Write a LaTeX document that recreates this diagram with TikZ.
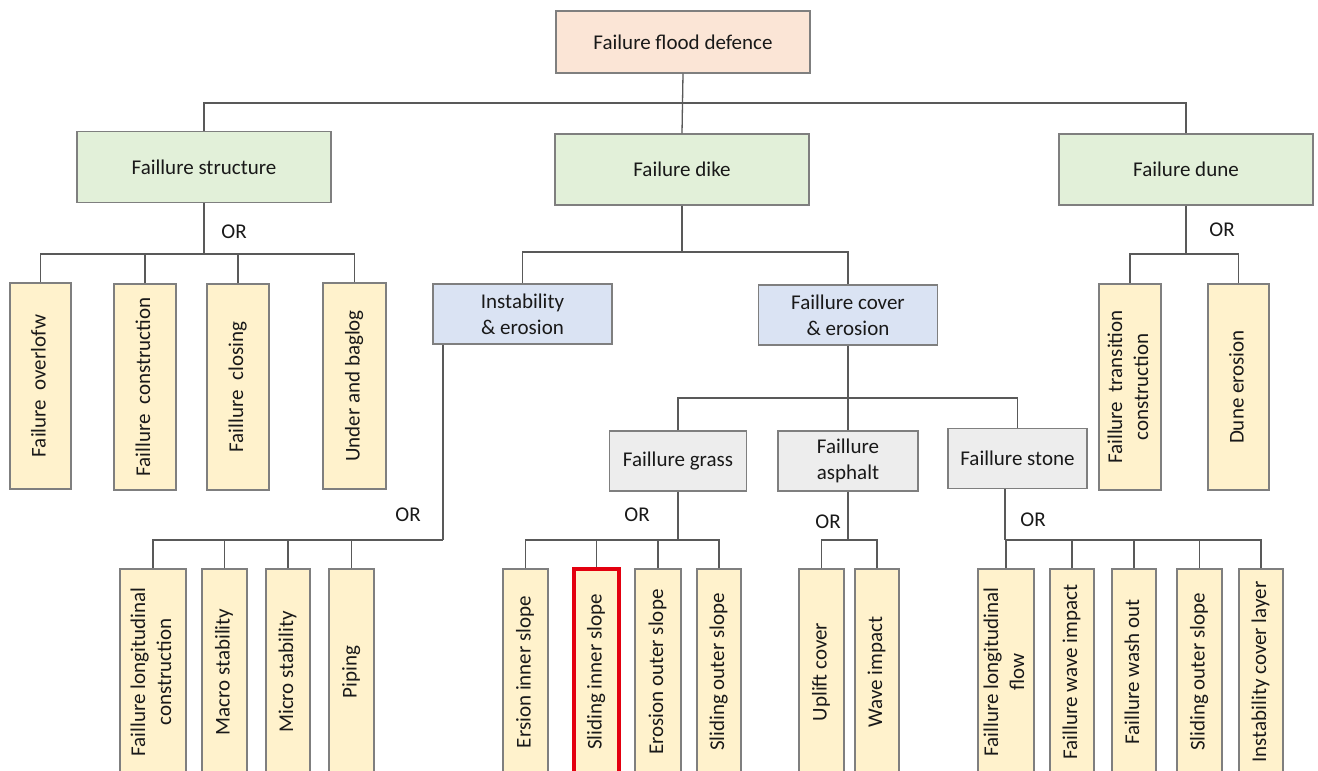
\documentclass[tikz,border=0pt]{standalone}
\usepackage{fontspec}
\setmainfont{Carlito}
\usepackage{graphicx}
\definecolor{cpeach}{HTML}{FBE5D6}
\definecolor{cgreen}{HTML}{E2F0D9}
\definecolor{cblue}{HTML}{DAE3F3}
\definecolor{cgrey}{HTML}{EDEDED}
\definecolor{cyellow}{HTML}{FFF2CC}
\definecolor{cborder}{HTML}{7F7F7F}
\definecolor{cline}{HTML}{595959}
\definecolor{cred}{HTML}{E3000F}
\tikzset{
  box/.style={draw=cborder, line width=1.3pt, inner sep=0pt, align=center,
    font=\fontsize{21}{26}\selectfont, text=black!90},
  topbox/.style={box, fill=cpeach, minimum width=254pt, minimum height=62pt},
  lvl1/.style={box, fill=cgreen, minimum width=254pt, minimum height=71pt},
  lvl2/.style={box, fill=cblue, minimum width=179pt, minimum height=60pt},
  lvl3/.style={box, fill=cgrey, minimum height=60pt},
  leaf/.style={box, fill=cyellow, minimum height=206pt},
  redbox/.style={draw=cred, line width=4.5pt},
  conn/.style={draw=cline, line width=1.3pt},
  orlab/.style={font=\fontsize{21}{26}\selectfont, text=black!90, inner sep=0pt}
}
\newcommand{\vtext}[1]{\rotatebox{90}{\begin{tabular}{@{}c@{}}#1\end{tabular}}}
\begin{document}
\begin{tikzpicture}[x=1pt, y=-1pt]
\clip (0,0) rectangle (1318,771);
\fill[white] (0,0) rectangle (1318,771);

% top levels
\node[topbox] (top) at (683,42) {Failure flood defence};
\node[lvl1] (struct) at (204,167) {Faillure structure};
\node[lvl1] (dike) at (682,169.5) {Failure dike};
\node[lvl1] (dune) at (1186,169.5) {Failure dune};

% level 2
\node[lvl2] (inst) at (522.5,314) {Instability\\\& erosion};
\node[lvl2] (cover) at (848,315) {Faillure cover\\\& erosion};

% level 3
\node[lvl3, minimum width=137pt] (grass) at (678,461) {Faillure grass};
\node[lvl3, minimum width=140pt] (asph) at (848,461) {Faillure\\asphalt};
\node[lvl3, minimum width=139pt] (stone) at (1017.5,458.5) {Faillure stone};

% structure leaves
\node[leaf, minimum width=61pt] (s1) at (40.5,386) {\vtext{Failure~ overlofw}};
\node[leaf, minimum width=62pt] (s2) at (145,387) {\vtext{Faillure~ construction}};
\node[leaf, minimum width=62pt] (s3) at (238,387) {\vtext{Faillure~ closing}};
\node[leaf, minimum width=63pt] (s4) at (354.5,386) {\vtext{Under and baglog}};

% dune leaves
\node[leaf, minimum width=62pt] (d1) at (1130,387) {\vtext{Faillure~ transition\\construction}};
\node[leaf, minimum width=61pt] (d2) at (1238.5,387) {\vtext{Dune erosion}};

% instability leaves
\node[leaf, minimum width=66pt] (i1) at (153,672) {\vtext{Faillure longitudinal\\construction}};
\node[leaf, minimum width=45pt] (i2) at (224.5,672) {\vtext{Macro stability}};
\node[leaf, minimum width=44pt] (i3) at (288,672) {\vtext{Micro stability}};
\node[leaf, minimum width=45pt] (i4) at (351.5,672) {\vtext{Piping}};

% grass leaves
\node[leaf, minimum width=45pt] (g1) at (525.5,672) {\vtext{Ersion inner slope}};
\node[leaf, redbox, minimum width=45pt] (g2) at (596.5,672) {\vtext{Sliding inner slope}};
\node[leaf, minimum width=46pt] (g3) at (658,672) {\vtext{Erosion outer slope}};
\node[leaf, minimum width=44pt] (g4) at (719,672) {\vtext{Sliding outer slope}};

% asphalt leaves
\node[leaf, minimum width=45pt] (a1) at (821.5,672) {\vtext{Uplift cover}};
\node[leaf, minimum width=44pt] (a2) at (877,672) {\vtext{Wave impact}};

% stone leaves
\node[leaf, minimum width=56pt] (t1) at (1006,672) {\vtext{Faillure longitudinal\\flow}};
\node[leaf, minimum width=44pt] (t2) at (1072,672) {\vtext{Faillure wave impact}};
\node[leaf, minimum width=44pt] (t3) at (1134,672) {\vtext{Faillure wash out}};
\node[leaf, minimum width=45pt] (t4) at (1199.5,672) {\vtext{Sliding outer slope}};
\node[leaf, minimum width=44pt] (t5) at (1261,672) {\vtext{Instability cover layer}};

% junctions
\coordinate (jtop) at (682,103);
\coordinate (jstruct) at (204,254);
\coordinate (jdike) at (682,252);
\coordinate (jdune) at (1186,254);
\coordinate (jcover) at (848,398);
\coordinate (jinst) at (443,540);
\coordinate (jgrass) at (678,540);
\coordinate (jasph) at (848,540);
\coordinate (jstone) at (1005,540);

% connectors
\draw[conn] (top.south) -- (dike.north);
\draw[conn] (struct.north) |- (jtop);
\draw[conn] (dune.north) |- (jtop);

\draw[conn] (struct.south) -- (jstruct);
\foreach \c in {s1,s2,s3,s4} \draw[conn] (\c.north) |- (jstruct);

\draw[conn] (dune.south) -- (jdune);
\foreach \c in {d1,d2} \draw[conn] (\c.north) |- (jdune);

\draw[conn] (dike.south) -- (jdike);
\foreach \c in {inst,cover} \draw[conn] (\c.north) |- (jdike);

\draw[conn] (cover.south) -- (asph.north);
\foreach \c in {grass,stone} \draw[conn] (\c.north) |- (jcover);

\draw[conn] (jinst |- inst.south) -- (jinst);
\foreach \c in {i1,i2,i3,i4} \draw[conn] (\c.north) |- (jinst);

\draw[conn] (grass.south) -- (jgrass);
\foreach \c in {g1,g2,g3,g4} \draw[conn] (\c.north) |- (jgrass);

\draw[conn] (asph.south) -- (jasph);
\foreach \c in {a1,a2} \draw[conn] (\c.north) |- (jasph);

\draw[conn] (jstone |- stone.south) -- (jstone);
\foreach \c in {t1,t2,t3,t4,t5} \draw[conn] (\c.north) |- (jstone);

% OR labels
\node[orlab] (or1) at (234,232) {OR};
\node[orlab] (or2) at (1222,230) {OR};
\node[orlab] (or3) at (408,515) {OR};
\node[orlab] (or4) at (637,515) {OR};
\node[orlab] (or5) at (828,522) {OR};
\node[orlab] (or6) at (1033,520) {OR};
\end{tikzpicture}
\end{document}
